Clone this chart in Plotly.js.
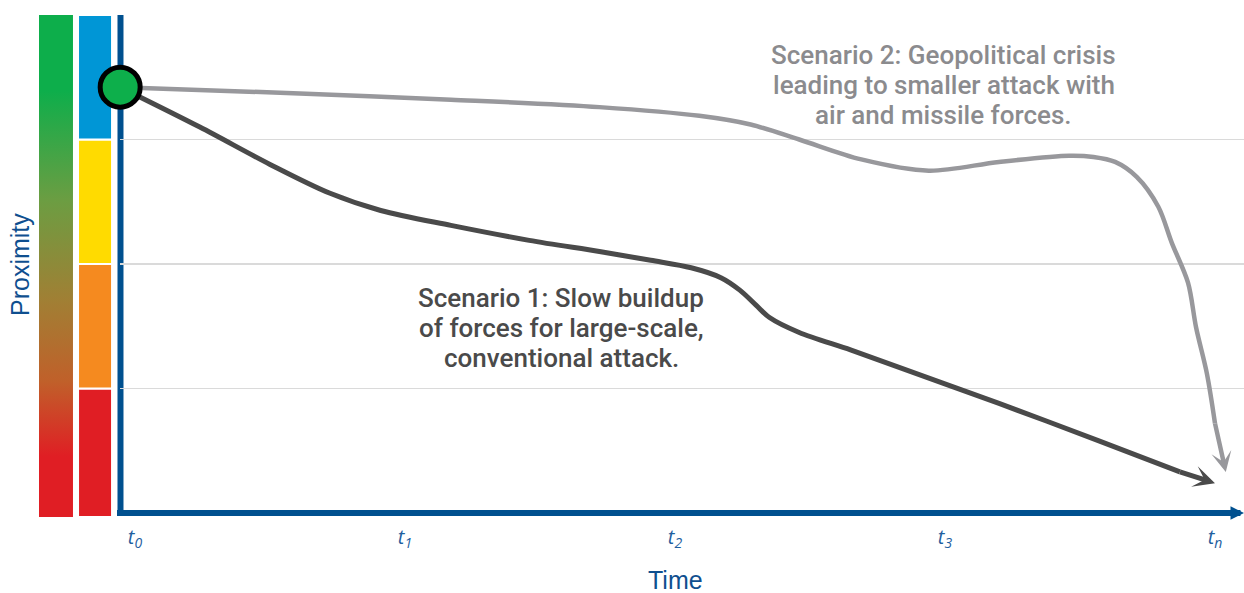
<!DOCTYPE html>
<html>
<head>
<meta charset="utf-8">
<script src="https://cdn.plot.ly/plotly-3.0.1.min.js"></script>
<style>
  html, body { margin: 0; padding: 0; background: #ffffff; }
  #chart { width: 1244px; height: 593px; }
</style>
</head>
<body>
<div id="chart"></div>
<script>
// Time steps along the horizontal axis
const timeTicks = [0, 1, 2, 3, 4];
const timeLabels = ['t<sub>0</sub>', 't<sub>1</sub>', 't<sub>2</sub>', 't<sub>3</sub>', 't<sub>n</sub>'];

// Proximity bands (bottom to top): base and height of each band
const bandBase = [-0.032, 1, 2, 3];
const bandHeight = [1.032, 1, 1, 1];
const bandColors = ['#e01e24', '#f58a1f', '#ffdb00', '#0096d6'];

// Scenario 1: slow buildup of forces
const s1X = [-0.055, 0.24, 0.50, 0.72, 0.91, 1.17, 1.46, 1.72, 1.91, 2.06, 2.17, 2.24, 2.30, 2.35, 2.46, 2.65, 2.83, 3.20, 3.57, 3.87, 4.00];
const s1Y = [3.42, 3.10, 2.80, 2.57, 2.43, 2.31, 2.19, 2.10, 2.03, 1.97, 1.89, 1.79, 1.67, 1.57, 1.45, 1.31, 1.17, 0.88, 0.58, 0.33, 0.24];

// Scenario 2: geopolitical crisis
const s2X = [-0.055, 0.61, 1.17, 1.72, 2.09, 2.28, 2.46, 2.69, 2.94, 3.20, 3.46, 3.55, 3.63, 3.71, 3.79, 3.84, 3.90, 3.93, 3.97, 4.00, 4.04];
const s2Y = [3.42, 3.37, 3.32, 3.26, 3.19, 3.12, 3.00, 2.84, 2.75, 2.82, 2.87, 2.86, 2.82, 2.70, 2.46, 2.17, 1.85, 1.49, 1.12, 0.72, 0.33];

// Label lines for each scenario
const s1Lines = ['Scenario 1: Slow buildup', 'of forces for large-scale,', 'conventional attack.'];
const s2Lines = ['Scenario 2: Geopolitical crisis', 'leading to smaller attack with', 'air and missile forces.'];

const axisBlue = '#00508f';
const dark = '#4a4a4a';
const light = '#98989c';

const n1 = s1X.length, n2 = s2X.length;

const traces = [
  {
    type: 'bar', xaxis: 'x', yaxis: 'y',
    x: bandBase.map(() => 0), y: bandHeight, base: bandBase, width: 1,
    marker: { color: bandColors, line: { color: '#ffffff', width: 2 } },
    hoverinfo: 'skip', showlegend: false
  },
  {
    type: 'scatter', mode: 'lines', xaxis: 'x2', yaxis: 'y2',
    x: s2X.slice(0, n2 - 1), y: s2Y.slice(0, n2 - 1),
    line: { color: light, width: 4.5, shape: 'spline', smoothing: 0.9 },
    hoverinfo: 'skip', showlegend: false
  },
  {
    type: 'scatter', mode: 'lines', xaxis: 'x2', yaxis: 'y2',
    x: s1X.slice(0, n1 - 1), y: s1Y.slice(0, n1 - 1),
    line: { color: dark, width: 5, shape: 'spline', smoothing: 0.9 },
    hoverinfo: 'skip', showlegend: false
  },
  {
    type: 'scatter', mode: 'markers', cliponaxis: false, xaxis: 'x2', yaxis: 'y2',
    x: [s1X[0]], y: [s1Y[0]],
    marker: { size: 40, color: '#0daf4b', line: { color: '#000000', width: 5 } },
    hoverinfo: 'skip', showlegend: false
  }
];

// Vertical colour ramp for the proximity scale
const rampSvg = '<svg xmlns="http://www.w3.org/2000/svg" width="34" height="502" viewBox="0 0 34 502" preserveAspectRatio="none">' +
  '<defs><linearGradient id="g" x1="0" y1="0" x2="0" y2="1">' +
  '<stop offset="0" stop-color="#0dae4b"/>' +
  '<stop offset="0.15" stop-color="#0dae4b"/>' +
  '<stop offset="0.37" stop-color="#6c9d42"/>' +
  '<stop offset="0.57" stop-color="#a17f34"/>' +
  '<stop offset="0.73" stop-color="#c0602a"/>' +
  '<stop offset="0.88" stop-color="#e01e24"/>' +
  '<stop offset="1" stop-color="#e01e24"/>' +
  '</linearGradient></defs><rect x="0" y="0" width="34" height="502" fill="url(#g)"/></svg>';

const annFont = 'Roboto, "Liberation Sans", sans-serif';
const titleFont = '"Liberation Sans", Arial, sans-serif';

// Arrow helper: head at (x, y), tail at (ax, ay)
function arrow(x, y, ax, ay, color, width, head, size) {
  return {
    xref: 'x2', yref: 'y2', axref: 'x2', ayref: 'y2',
    x: x, y: y, ax: ax, ay: ay, text: '', font: { size: 1 }, borderpad: 0, borderwidth: 0,
    showarrow: true, arrowhead: head, arrowsize: size, arrowwidth: width, arrowcolor: color
  };
}

// One annotation per text line, 30px apart
function textBlock(lines, cx, cy, color) {
  const step = 30 / 124.5;
  return lines.map((t, i) => ({
    xref: 'x2', yref: 'y2', x: cx, y: cy - (i - 1) * step,
    xanchor: 'center', yanchor: 'middle', showarrow: false, text: t,
    font: { family: annFont, size: 26, weight: 500, color: color }
  }));
}

const layout = {
  width: 1244, height: 593,
  margin: { l: 38, r: 0, t: 15, b: 76 },
  paper_bgcolor: '#ffffff', plot_bgcolor: 'rgba(0,0,0,0)',
  showlegend: false, hovermode: false,
  xaxis: { domain: [0.0332, 0.0614], anchor: 'y', range: [-0.5, 0.5], visible: false, fixedrange: true },
  yaxis: { anchor: 'x', range: [-0.032, 4], visible: false, fixedrange: true },
  xaxis2: {
    domain: [0.068, 1], anchor: 'y2', range: [-0.0556, 4.1074],
    tickvals: timeTicks, ticktext: timeLabels.map(t => '<i>' + t + '</i>'),
    tickfont: { family: '"Open Sans", sans-serif', size: 20, color: '#1f5f9f' },
    ticks: 'outside', ticklen: 2, tickcolor: 'rgba(0,0,0,0)',
    showgrid: false, zeroline: false, showline: false, fixedrange: true
  },
  yaxis2: {
    anchor: 'x2', range: [-0.032, 4], tickvals: [1, 2, 3], showticklabels: false,
    gridcolor: '#dadada', gridwidth: 1.5, zeroline: false, showline: false, fixedrange: true
  },
  images: [{
    source: 'data:image/svg+xml;charset=utf-8,' + encodeURIComponent(rampSvg),
    xref: 'paper', yref: 'paper', x: 0.0008, y: 1, sizex: 0.0282, sizey: 1,
    xanchor: 'left', yanchor: 'top', sizing: 'stretch', layer: 'below'
  }],
  shapes: [{
    type: 'line', xref: 'paper', yref: 'paper', layer: 'below',
    x0: 0.0684, x1: 0.0684, y0: 0.002, y1: 1,
    line: { color: axisBlue, width: 6 }
  }],
  annotations: [
    // horizontal axis with arrow
    arrow(4.1074, 0, -0.0667, 0, axisBlue, 6, 2, 0.45),
    // scenario arrowheads on the final segment of each path
    arrow(s1X[n1 - 1], s1Y[n1 - 1], s1X[n1 - 2], s1Y[n1 - 2], dark, 5, 3, 0.72),
    arrow(s2X[n2 - 1], s2Y[n2 - 1], s2X[n2 - 2], s2Y[n2 - 2], light, 4.5, 3, 0.75)
  ].concat(
    textBlock(s2Lines, 2.996, 3.438, '#8b8b8e'),
    textBlock(s1Lines, 1.578, 1.486, '#4a4a4a'),
    [
      {
        xref: 'paper', yref: 'paper', x: 0.5282, y: -0.126, xanchor: 'center', yanchor: 'middle',
        showarrow: false, text: 'Time',
        font: { family: titleFont, size: 25, color: '#0f4f8f' }
      },
      {
        xref: 'paper', yref: 'paper', x: -0.0149, y: 0.502, xanchor: 'center', yanchor: 'middle',
        showarrow: false, text: 'Proximity', textangle: -90,
        font: { family: titleFont, size: 25, color: '#0f4f8f' }
      }
    ]
  )
};

Plotly.newPlot('chart', traces, layout, { displayModeBar: false, staticPlot: true });
</script>
</body>
</html>
